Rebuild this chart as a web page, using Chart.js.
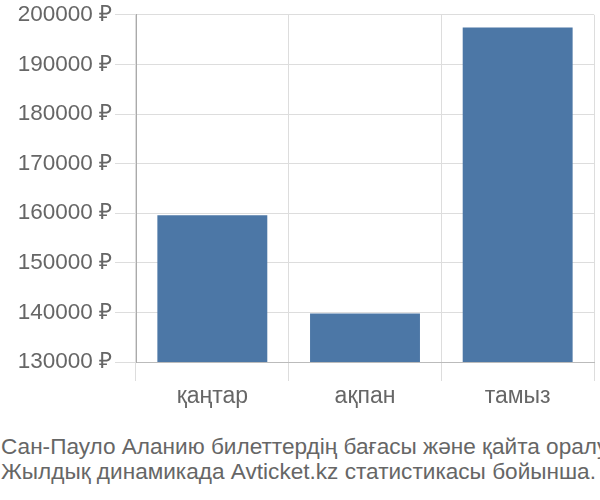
<!DOCTYPE html>
<html>
<head>
<meta charset="utf-8">
<script src="https://cdn.jsdelivr.net/npm/chart.js@4/dist/chart.umd.min.js"></script>
<style>
  html, body { margin: 0; padding: 0; background: #fff; }
  .wrap { width: 600px; height: 500px; position: relative; overflow: hidden; }
  .chart-box { position: relative; width: 600px; height: 420px; }
  .caption {
    position: absolute; left: 1px; top: 434px; width: 640px;
    font-family: "Liberation Sans", Arial, sans-serif; font-size: 22.6px;
    line-height: 25px; color: #666; white-space: nowrap;
  }
</style>
</head>
<body>
<div class="wrap">
  <div class="chart-box"><canvas id="c"></canvas></div>
  <div class="caption">
    <div>Сан-Пауло Аланию билеттердің бағасы және қайта оралу</div>
    <div>Жылдық динамикада Avticket.kz статистикасы бойынша.</div>
  </div>
</div>
<script>
const months = ['қаңтар', 'ақпан', 'тамыз'];
const prices = [159600, 139800, 197450];
const yMin = 130000;
const yMax = 200000;
const yStep = 10000;

const yFont = { family: '"Liberation Sans", Arial, sans-serif', size: 22.5, lineHeight: 1.05 };
const xFont = { family: '"Liberation Sans", Arial, sans-serif', size: 23 };

new Chart(document.getElementById('c').getContext('2d'), {
  type: 'bar',
  data: {
    labels: months,
    datasets: [{
      data: prices,
      backgroundColor: '#4c77a6',
      borderWidth: 0,
      barPercentage: 0.72,
      categoryPercentage: 1,
    }],
  },
  options: {
    responsive: true,
    maintainAspectRatio: false,
    animation: false,
    layout: { padding: { top: 2, right: 6, left: 0, bottom: 0 } },
    scales: {
      x: {
        afterFit: s => { s.height = 58; },
        grid: { color: '#dddddd', tickLength: 19, offset: true },
        border: { color: '#bbbbbb' },
        ticks: { color: '#666', font: xFont, padding: 2 },
      },
      y: {
        min: yMin,
        max: yMax,
        afterFit: s => { s.width = 136; },
        grid: { color: '#dddddd', tickLength: 21 },
        border: { color: '#aaaaaa' },
        ticks: {
          stepSize: yStep,
          color: '#666',
          font: yFont,
          padding: 3,
          callback: v => v + ' ₽',
        },
      },
    },
    plugins: {
      legend: { display: false },
      tooltip: { enabled: false },
    },
  },
});
</script>
</body>
</html>
